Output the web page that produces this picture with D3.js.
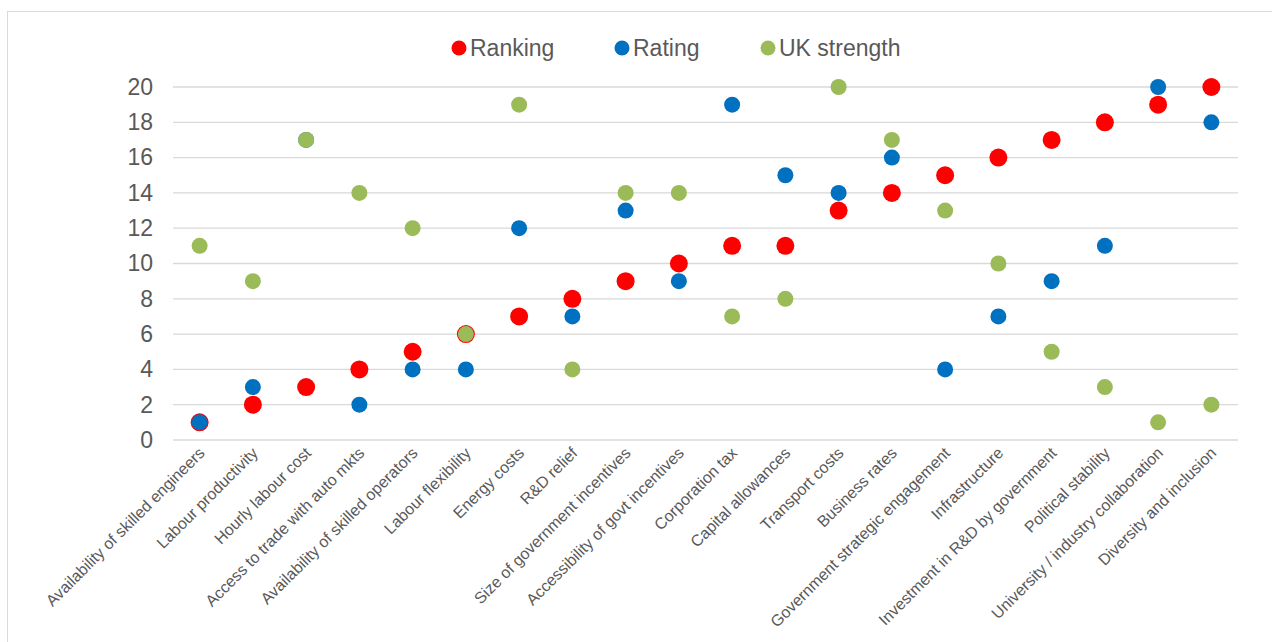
<!DOCTYPE html>
<html>
<head>
<meta charset="utf-8">
<script src="https://cdn.jsdelivr.net/npm/d3@7"></script>
<style>
  body { margin: 0; background: #fff; }
  svg { font-family: "Liberation Sans", Arial, sans-serif; }
</style>
</head>
<body>
<div class="chart"></div>
<script>
const categories = [
  'Availability of skilled engineers', 'Labour productivity', 'Hourly labour cost',
  'Access to trade with auto mkts', 'Availability of skilled operators', 'Labour flexibility',
  'Energy costs', 'R&D relief', 'Size of government incentives',
  'Accessibility of govt incentives', 'Corporation tax', 'Capital allowances',
  'Transport costs', 'Business rates', 'Government strategic engagement',
  'Infrastructure', 'Investment in R&D by government', 'Political stability',
  'University / industry collaboration', 'Diversity and inclusion'
]
const ranking    = [1, 2, 3, 4, 5, 6, 7, 8, 9, 10, 11, 11, 13, 14, 15, 16, 17, 18, 19, 20]
const rating     = [1, 3, 17, 2, 4, 4, 12, 7, 13, 9, 19, 15, 14, 16, 4, 7, 9, 11, 20, 18]
const ukStrength = [11, 9, 17, 14, 12, 6, 19, 4, 14, 14, 7, 8, 20, 17, 13, 10, 5, 3, 1, 2]
const yTicks = [0, 2, 4, 6, 8, 10, 12, 14, 16, 18, 20]

const series = [
  {name: 'Ranking', values: ranking, color: '#ff0000', r: 9},
  {name: 'Rating', values: rating, color: '#0070c0', r: 8},
  {name: 'UK strength', values: ukStrength, color: '#9bbb59', r: 8}
]

const W = 1272, H = 642
const margin = {top: 87, right: 34, bottom: 202, left: 173}
const width = W - margin.left - margin.right,
      height = H - margin.top - margin.bottom

const svg = d3.select('.chart').append('svg')
  .attr('width', W)
  .attr('height', H)

// outer frame (runs off the right and bottom edges)
svg.append('rect')
  .attr('x', 7.5).attr('y', 11.5)
  .attr('width', 1300).attr('height', 660)
  .attr('fill', 'none')
  .attr('stroke', '#d9d9d9')

const g = svg.append('g')
  .attr('transform', `translate(${margin.left},${margin.top})`)

const x = d3.scaleBand().domain(categories).range([0, width])
const y = d3.scaleLinear().domain([0, 20]).range([height, 0])

// gridlines
g.selectAll('.grid')
  .data(yTicks)
  .enter()
  .append('line')
  .attr('x1', 0).attr('x2', width)
  .attr('y1', d => y(d)).attr('y2', d => y(d))
  .attr('stroke', '#d9d9d9')
  .attr('stroke-width', 1.3)

const yAxis = d3.axisLeft(y).tickValues(yTicks).tickSize(0).tickPadding(20)
g.append('g')
  .attr('class', 'axis y-axis')
  .call(yAxis)
  .call(a => a.select('.domain').remove())
  .selectAll('text')
  .attr('font-size', 23)
  .attr('fill', '#595959')
  .attr('font-family', '"Liberation Sans", Arial, sans-serif')

// x labels, rotated
g.selectAll('.xlabel')
  .data(categories)
  .enter()
  .append('text')
  .attr('transform', d => `translate(${x(d) + x.bandwidth() / 2 + 6},${height + 14}) rotate(-45)`)
  .attr('text-anchor', 'end')
  .attr('font-size', 16)
  .attr('fill', '#595959')
  .text(d => d)

// dots
series.forEach(s => {
  g.selectAll('.dot-' + s.name)
    .data(s.values)
    .enter()
    .append('circle')
    .attr('cx', (d, i) => x(categories[i]) + x.bandwidth() / 2)
    .attr('cy', d => y(d))
    .attr('r', s.r)
    .attr('fill', s.color)
})

// legend
const legendX = [459, 622, 768]
const legend = svg.selectAll('.legend')
  .data(series)
  .enter()
  .append('g')
  .attr('transform', (d, i) => `translate(${legendX[i]},48)`)
legend.append('circle')
  .attr('r', 7.5)
  .attr('fill', d => d.color)
legend.append('text')
  .attr('x', 11)
  .attr('y', 8)
  .attr('font-size', 23)
  .attr('fill', '#595959')
  .text(d => d.name)
</script>
</body>
</html>
